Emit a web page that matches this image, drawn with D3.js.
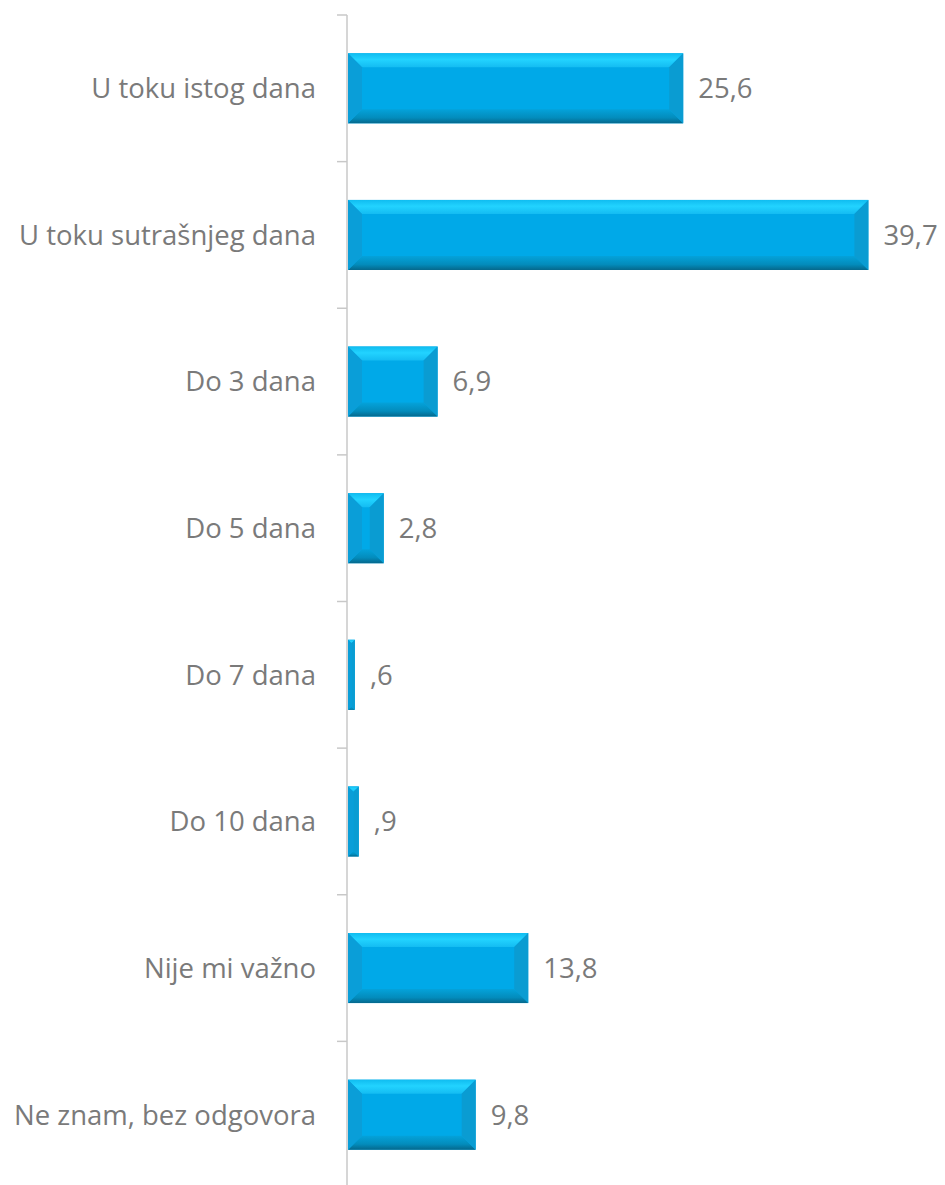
<!DOCTYPE html>
<html><head><meta charset="utf-8">
<script src="https://cdn.jsdelivr.net/npm/d3@7"></script>
<style>html,body{margin:0;padding:0;background:#fff;}</style>
</head><body>
<svg id="c" width="945" height="1185"></svg>
<script>
const categories = ["U toku istog dana","U toku sutrašnjeg dana","Do 3 dana","Do 5 dana","Do 7 dana","Do 10 dana","Nije mi važno","Ne znam, bez odgovora"];
const values = [25.6, 39.7, 6.9, 2.8, 0.6, 0.9, 13.8, 9.8];
const valueLabels = ["25,6","39,7","6,9","2,8",",6",",9","13,8","9,8"];

const svg = d3.select("#c");
const x = d3.scaleLinear().domain([0,45]).range([347, 938]);
const y = d3.scaleBand().domain(categories).range([15, 1188]).paddingInner(0.522).paddingOuter(0.261);

const defs = svg.append("defs");
const gTop = defs.append("linearGradient").attr("id","gt").attr("x1",0).attr("y1",0).attr("x2",0).attr("y2",1);
gTop.append("stop").attr("offset","0%").attr("stop-color","#10bcf0");
gTop.append("stop").attr("offset","45%").attr("stop-color","#22d3ff");
gTop.append("stop").attr("offset","100%").attr("stop-color","#14bcf2");
const gBot = defs.append("linearGradient").attr("id","gb").attr("x1",0).attr("y1",0).attr("x2",0).attr("y2",1);
gBot.append("stop").attr("offset","0%").attr("stop-color","#04a2da");
gBot.append("stop").attr("offset","60%").attr("stop-color","#038cbc");
gBot.append("stop").attr("offset","100%").attr("stop-color","#05688c");

const axisG = svg.append("g");
axisG.append("line").attr("x1",x(0)).attr("x2",x(0)).attr("y1",15).attr("y2",1185).attr("stroke","#c8c8c8").attr("stroke-width",1.5);
const tickYs = categories.map(c => y(c) - y.step()*y.paddingInner()/2);
tickYs.push(y(categories[categories.length-1]) + y.bandwidth() + y.step()*y.paddingInner()/2);
axisG.selectAll("line.t").data(tickYs).join("line").attr("class","t")
  .attr("x1",x(0)-10).attr("x2",x(0)).attr("y1",d=>d).attr("y2",d=>d)
  .attr("stroke","#c8c8c8").attr("stroke-width",1.5);

const data = categories.map((c,i)=>({c, v:values[i], l:valueLabels[i]}));
const bars = svg.append("g").selectAll("g").data(data).join("g");
bars.each(function(d){
  const g = d3.select(this);
  const x0 = x(0)+1, x1 = x(d.v), y0 = y(d.c), y1 = y0 + y.bandwidth();
  const w = x1-x0, h = y1-y0;
  const b = Math.min(14, w/2, h/2);
  g.append("rect").attr("x",x0).attr("y",y0).attr("width",w).attr("height",h).attr("fill","#00a9e8");
  const poly = (pts, fill) => g.append("polygon").attr("points", pts.map(p=>p.join(",")).join(" ")).attr("fill",fill);
  poly([[x0,y0],[x1,y0],[x1-b,y0+b],[x0+b,y0+b]], "url(#gt)");
  poly([[x0,y1],[x1,y1],[x1-b,y1-b],[x0+b,y1-b]], "url(#gb)");
  poly([[x0,y0],[x0+b,y0+b],[x0+b,y1-b],[x0,y1]], "#0a9ed8");
  poly([[x1,y0],[x1-b,y0+b],[x1-b,y1-b],[x1,y1]], "#0a9cd2");
});

const FONT = "'Open Sans', sans-serif";
svg.append("g").selectAll("text").data(data).join("text")
  .attr("x", d=>x(d.v)+15).attr("y", d=>y(d.c)+y.bandwidth()/2)
  .attr("dy","0.36em").attr("font-family",FONT).attr("font-size",27.5)
  .attr("fill","#7a7a7a").text(d=>d.l);

svg.append("g").selectAll("text").data(categories).join("text")
  .attr("x", 316).attr("y", d=>y(d)+y.bandwidth()/2)
  .attr("dy","0.36em").attr("text-anchor","end").attr("font-family",FONT).attr("font-size",27.5)
  .attr("fill","#7a7a7a").text(d=>d);
</script>
</body></html>
